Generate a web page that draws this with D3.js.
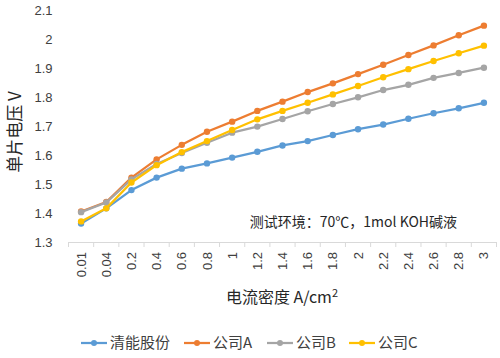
<!DOCTYPE html>
<html><head><meta charset="utf-8">
<script src="https://cdn.jsdelivr.net/npm/d3@7"></script>
<style>
body{margin:0;background:#fff;}
svg{display:block;font-family:"Noto Sans CJK SC","Noto Sans",sans-serif;}
</style></head>
<body><svg id="c" width="500" height="358"></svg>
<script>
const categories = ["0.01","0.04","0.2","0.4","0.6","0.8","1","1.2","1.4","1.6","1.8","2","2.2","2.4","2.6","2.8","3"];
const yTicks = [1.3,1.4,1.5,1.6,1.7,1.8,1.9,2,2.1];
const seriesNames = ["清能股份","公司A","公司B","公司C"];
const seriesColors = ["#5B9BD5","#ED7D31","#A5A5A5","#FFC000"];
const qingneng = [1.364,1.416,1.479,1.522,1.553,1.571,1.591,1.611,1.633,1.648,1.669,1.689,1.705,1.725,1.744,1.761,1.780];
const companyA = [1.405,1.438,1.522,1.585,1.635,1.680,1.715,1.752,1.784,1.817,1.847,1.879,1.911,1.945,1.978,2.013,2.046];
const companyB = [1.403,1.436,1.516,1.569,1.607,1.642,1.677,1.698,1.724,1.751,1.776,1.799,1.824,1.842,1.866,1.883,1.901];
const companyC = [1.371,1.416,1.505,1.565,1.610,1.648,1.686,1.723,1.752,1.780,1.809,1.838,1.868,1.896,1.924,1.951,1.977];
const seriesData = [qingneng, companyA, companyB, companyC];
const annotation = "测试环境：70℃，1mol KOH碱液";
const xTitle = "电流密度 A/cm";
const yTitle = "单片电压 V";

(function(){
const svg = d3.select("#c");
const mLeft = 68.5, mRight = 496.5, mTop = 10, mBottom = 242;
const x = d3.scaleBand().domain(categories).range([mLeft, mRight]);
const y = d3.scaleLinear().domain([1.3, 2.1]).range([mBottom, mTop]);

const yAxis = svg.append("g").attr("transform", `translate(${mLeft},0)`)
  .call(d3.axisLeft(y).tickValues(yTicks).tickSize(0).tickPadding(16).tickFormat(d3.format("~g")));
yAxis.select(".domain").remove();
yAxis.selectAll("text").attr("font-size", 13).attr("fill", "#404040");

const xAxis = svg.append("g").attr("transform", `translate(0,${mBottom})`)
  .call(d3.axisBottom(x).tickSize(0));
xAxis.select(".domain").attr("stroke", "#d9d9d9");
xAxis.selectAll("text")
  .attr("font-size", 13).attr("fill", "#404040")
  .attr("text-anchor", "end")
  .attr("transform", "rotate(-90)")
  .attr("x", -10).attr("y", 0).attr("dy", "0.35em");
const bounds = categories.map(c => x(c)).concat([mRight]);
svg.append("g").selectAll("line").data(bounds).join("line")
  .attr("x1", d => d).attr("x2", d => d)
  .attr("y1", mBottom).attr("y2", mBottom + 5)
  .attr("stroke", "#d9d9d9");

const line = d3.line().x((d, i) => x(categories[i]) + x.bandwidth() / 2).y(d => y(d));
seriesData.forEach((s, k) => {
  const g = svg.append("g");
  g.append("path").datum(s).attr("d", line).attr("fill", "none")
    .attr("stroke", seriesColors[k]).attr("stroke-width", 2.25).attr("stroke-linejoin", "round");
  g.selectAll("circle").data(s).join("circle")
    .attr("cx", (d, i) => x(categories[i]) + x.bandwidth() / 2)
    .attr("cy", d => y(d)).attr("r", 3.2).attr("fill", seriesColors[k]);
});

svg.append("text").attr("x", 457).attr("y", 227).attr("text-anchor", "end")
  .attr("font-size", 14).attr("fill", "#262626").text(annotation);

const xt = svg.append("text").attr("x", 282).attr("y", 303).attr("text-anchor", "middle")
  .attr("font-size", 16).attr("fill", "#262626");
xt.append("tspan").text(xTitle);
xt.append("tspan").attr("font-size", 11).attr("dy", -6).text("2");

svg.append("text").attr("transform", "translate(21,132) rotate(-90)").attr("text-anchor", "middle")
  .attr("font-size", 17).attr("fill", "#262626").text(yTitle);

const legendX = [81, 184, 267, 349];
seriesNames.forEach((n, k) => {
  const g = svg.append("g").attr("transform", `translate(${legendX[k]},343)`);
  g.append("line").attr("x1", 0).attr("x2", 26).attr("stroke", seriesColors[k]).attr("stroke-width", 2.25);
  g.append("circle").attr("cx", 13).attr("r", 3).attr("fill", seriesColors[k]);
  g.append("text").attr("x", 29).attr("dy", "0.35em").attr("font-size", 15).attr("fill", "#404040").text(n);
});
})();
</script></body></html>
